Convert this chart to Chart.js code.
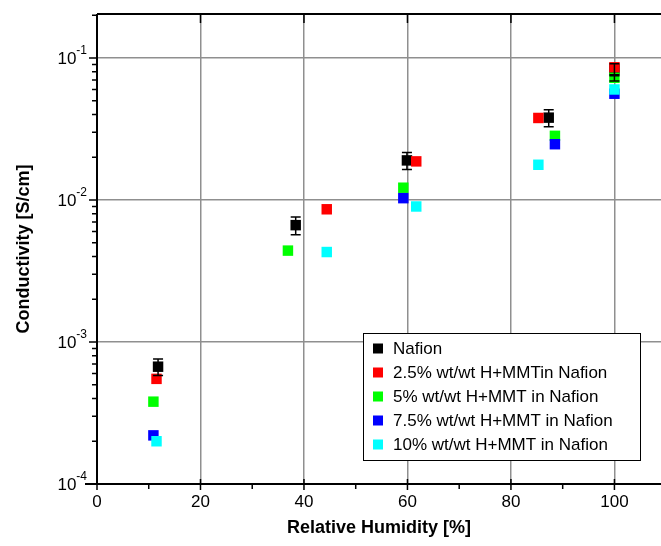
<!DOCTYPE html>
<html>
<head>
<meta charset="utf-8">
<script src="https://cdn.jsdelivr.net/npm/chart.js@4"></script>
<style>
  html, body { margin: 0; padding: 0; background: #fff; }
  #wrap { width: 661px; height: 546px; }
</style>
</head>
<body>
<div id="wrap"><canvas id="chartCanvas" width="661" height="546"></canvas></div>
<script>
// series (x = relative humidity %, y = conductivity S/cm)
const seriesLabels = ['Nafion', '2.5% wt/wt H+MMTin Nafion', '5% wt/wt H+MMT in Nafion',
                      '7.5% wt/wt H+MMT in Nafion', '10% wt/wt H+MMT in Nafion'];
const seriesColors = ['#000000', '#ff0000', '#00ff00', '#0000ff', '#00ffff'];

const nafionRH    = [11.8, 38.4, 59.9, 87.3, 100];
const nafionSigma = [6.7e-4, 6.65e-3, 1.9e-2, 3.8e-2, 8.3e-2];
const nafionErr   = [0.9e-4, 0.95e-3, 2.6e-3, 5.2e-3, 8.0e-3];

const mmt25RH    = [11.5, 44.4, 61.7, 85.3, 100];
const mmt25Sigma = [5.5e-4, 8.6e-3, 1.87e-2, 3.78e-2, 8.6e-2];

const mmt5RH    = [10.9, 36.9, 59.2, 88.5, 100];
const mmt5Sigma = [3.8e-4, 4.4e-3, 1.22e-2, 2.83e-2, 7.25e-2];
const mmt5Err   = [null, null, null, null, 3.8e-3];

const mmt75RH    = [10.9, 59.2, 88.5, 100];
const mmt75Sigma = [2.2e-4, 1.03e-2, 2.47e-2, 5.6e-2];

const mmt10RH    = [11.5, 44.4, 61.7, 85.3, 100];
const mmt10Sigma = [2.0e-4, 4.3e-3, 9.0e-3, 1.77e-2, 6.0e-2];

// axis ticks
const xMajorTicks = [0, 20, 40, 60, 80, 100];
const xMinorTicks = [10, 30, 50, 70, 90];
const yMajorTicks = [1e-4, 1e-3, 1e-2, 1e-1];
const yTickExp    = ['-4', '-3', '-2', '-1'];
const yMinorTicks = [];
[1e-4, 1e-3, 1e-2, 1e-1].forEach(d => { for (let m = 2; m <= 9; m++) if (d * m <= 0.2) yMinorTicks.push(d * m); });

const FONT = '"Liberation Sans", Arial, sans-serif';

function pts(xs, ys, errs) {
    return xs.map((x, i) => ({ x: x, y: ys[i], err: errs ? errs[i] : null }));
}

const allData = [
    pts(nafionRH, nafionSigma, nafionErr),
    pts(mmt25RH, mmt25Sigma),
    pts(mmt5RH, mmt5Sigma, mmt5Err),
    pts(mmt75RH, mmt75Sigma),
    pts(mmt10RH, mmt10Sigma)
];

const decorPlugin = {
    id: 'decor',
    afterDatasetsDraw(chart) {
        const ctx = chart.ctx;
        const xs = chart.scales.x, ys = chart.scales.y;
        const a = chart.chartArea;
        ctx.save();

        // error bars
        ctx.strokeStyle = '#000';
        ctx.lineWidth = 1.5;
        chart.data.datasets.forEach(ds => {
            ds.data.forEach(p => {
                if (!p.err) return;
                const px = xs.getPixelForValue(p.x);
                const y1 = ys.getPixelForValue(p.y + p.err);
                const y2 = ys.getPixelForValue(p.y - p.err);
                ctx.beginPath();
                ctx.moveTo(px, y1); ctx.lineTo(px, y2);
                ctx.moveTo(px - 5, y1); ctx.lineTo(px + 5, y1);
                ctx.moveTo(px - 5, y2); ctx.lineTo(px + 5, y2);
                ctx.stroke();
            });
        });

        // frame: left, bottom, top
        ctx.strokeStyle = '#000';
        ctx.lineWidth = 2;
        ctx.beginPath();
        ctx.moveTo(a.left, a.top); ctx.lineTo(a.left, a.bottom);
        ctx.moveTo(a.left - 12, a.bottom); ctx.lineTo(a.right, a.bottom);
        ctx.moveTo(a.left, a.top); ctx.lineTo(a.right, a.top);
        ctx.stroke();

        // tick marks
        ctx.lineWidth = 1.5;
        ctx.beginPath();
        xMajorTicks.forEach(v => {
            const px = xs.getPixelForValue(v);
            ctx.moveTo(px, a.bottom - 5); ctx.lineTo(px, a.bottom + 6);
            ctx.moveTo(px, a.top); ctx.lineTo(px, a.top + 9);
        });
        xMinorTicks.forEach(v => {
            const px = xs.getPixelForValue(v);
            ctx.moveTo(px, a.bottom); ctx.lineTo(px, a.bottom + 5);
        });
        yMajorTicks.forEach(v => {
            const py = ys.getPixelForValue(v);
            ctx.moveTo(a.left - 8, py); ctx.lineTo(a.left, py);
        });
        yMinorTicks.forEach(v => {
            const py = ys.getPixelForValue(v);
            ctx.moveTo(a.left - 5, py); ctx.lineTo(a.left, py);
        });
        ctx.stroke();

        // y tick labels with superscript exponents
        ctx.fillStyle = '#000';
        ctx.textBaseline = 'middle';
        yMajorTicks.forEach((v, i) => {
            const py = ys.getPixelForValue(v);
            ctx.font = '12px ' + FONT;
            const ew = ctx.measureText(yTickExp[i]).width;
            const xr = a.left - 10;
            ctx.textAlign = 'left';
            ctx.fillText(yTickExp[i], xr - ew, py - 7);
            ctx.font = '17px ' + FONT;
            ctx.textAlign = 'right';
            ctx.fillText('10', xr - ew, py + 1);
        });

        // legend box
        const lx = 363.5, ly = 333.5, lw = 277, lh = 127;
        ctx.fillStyle = '#fff';
        ctx.fillRect(lx, ly, lw, lh);
        ctx.strokeStyle = '#000';
        ctx.lineWidth = 1;
        ctx.strokeRect(lx, ly, lw, lh);
        ctx.font = '17px ' + FONT;
        ctx.textAlign = 'left';
        chart.data.datasets.forEach((ds, i) => {
            const cy = 348.5 + i * 24;
            ctx.fillStyle = ds.backgroundColor;
            ctx.fillRect(373, cy - 5, 10, 10);
            ctx.fillStyle = '#000';
            ctx.fillText(ds.label, 393, cy + 1);
        });
        ctx.restore();
    }
};

new Chart(document.getElementById('chartCanvas').getContext('2d'), {
    type: 'scatter',
    data: {
        datasets: allData.map((d, i) => ({
            label: seriesLabels[i],
            data: d,
            order: allData.length - i,   // later series drawn on top
            backgroundColor: seriesColors[i],
            borderColor: seriesColors[i],
            borderWidth: 0,
            pointStyle: 'rect',
            pointRadius: 7.4,
            pointHoverRadius: 7.4
        }))
    },
    options: {
        responsive: false,
        animation: false,
        layout: { autoPadding: false, padding: { top: 14, right: 0, left: 0, bottom: 0 } },
        plugins: { legend: { display: false }, tooltip: { enabled: false } },
        scales: {
            x: {
                type: 'linear',
                min: 0, max: 109,
                afterBuildTicks: s => { s.ticks = xMajorTicks.map(v => ({ value: v })); },
                afterFit: s => { s.height = 62; s.paddingLeft = 0; s.paddingRight = 0; },
                grid: { color: '#8f8f8f', lineWidth: 1.5, drawTicks: false },
                border: { display: false },
                ticks: { color: '#000', font: { family: FONT, size: 17 }, padding: 8, maxRotation: 0 },
                title: {
                    display: true, text: 'Relative Humidity [%]', color: '#000',
                    font: { family: FONT, size: 18, weight: 'bold' },
                    padding: { top: 0, bottom: 7 }
                }
            },
            y: {
                type: 'logarithmic',
                min: 1e-4, max: 0.204,
                afterBuildTicks: s => { s.ticks = yMajorTicks.map(v => ({ value: v })); },
                afterFit: s => { s.width = 97; s.paddingTop = 0; s.paddingBottom = 0; },
                grid: { color: '#8f8f8f', lineWidth: 1.5, drawTicks: false },
                border: { display: false },
                ticks: { display: false },
                title: {
                    display: true, text: 'Conductivity [S/cm]', color: '#000',
                    font: { family: FONT, size: 18, weight: 'bold' },
                    padding: { top: 13, bottom: 0 }
                }
            }
        }
    },
    plugins: [decorPlugin]
});
</script>
</body>
</html>
